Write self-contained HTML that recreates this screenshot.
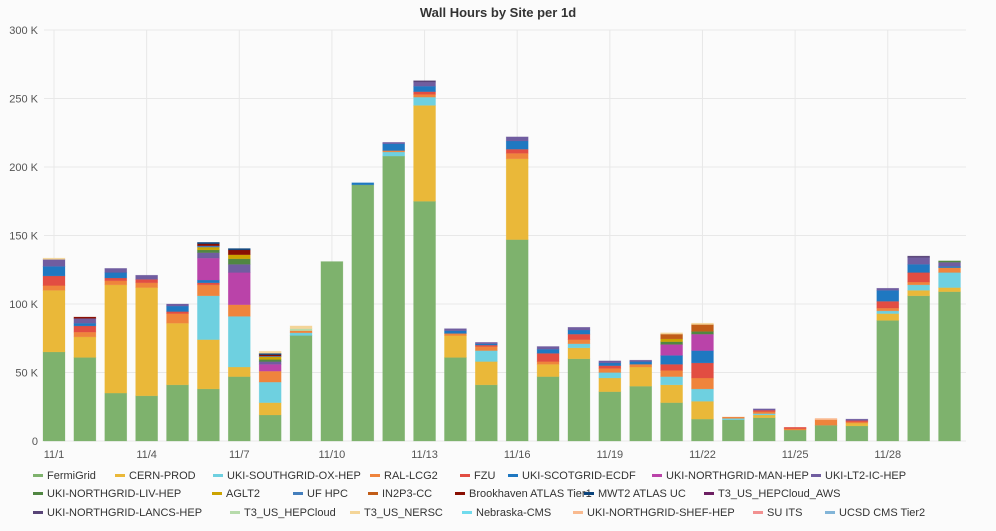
<!DOCTYPE html>
<html><head><meta charset="utf-8"><style>
body{margin:0;background:#fbfbfb;font-family:"Liberation Sans",sans-serif;}
svg text{font-family:"Liberation Sans",sans-serif;}
</style></head><body>
<svg id="c" width="996" height="526"></svg>
<script>
const days=[];for(let i=1;i<=30;i++)days.push("11/"+i);
const yTicks=[0,50,100,150,200,250,300];
const yTickLabels=["0","50 K","100 K","150 K","200 K","250 K","300 K"];
const seriesNames=["FermiGrid","CERN-PROD","UKI-SOUTHGRID-OX-HEP","RAL-LCG2","FZU","UKI-SCOTGRID-ECDF","UKI-NORTHGRID-MAN-HEP","UKI-LT2-IC-HEP","UKI-NORTHGRID-LIV-HEP","AGLT2","UF HPC","IN2P3-CC","Brookhaven ATLAS Tier1","MWT2 ATLAS UC","T3_US_HEPCloud_AWS","UKI-NORTHGRID-LANCS-HEP","T3_US_HEPCloud","T3_US_NERSC","Nebraska-CMS","UKI-NORTHGRID-SHEF-HEP","SU ITS","UCSD CMS Tier2"];
const colors=["#7eb26d","#eab839","#6ed0e0","#ef843c","#e24d42","#1f78c1","#ba43a9","#705da0","#508642","#cca300","#447ebc","#c15c17","#890f02","#0a437c","#6d1f62","#584477","#b7dbab","#f4d598","#70dbed","#f9ba8f","#f29191","#82b5d8"];
const fermi=[65,61,35,33,41,38,47,19,77,131,187,208,175,61,41,147,47,60,36,40,28,16,15.5,17,8,11.5,11,88,106,109];
const cern=[45,15,79,79,45,36,7,9,0,0,0,0,70,16,17,59,9,8,10,14,13,13,0,2,0,0,2,5,4,3];
const ox=[0,0,0,0,0,32,37,15,2,0,0,3,6,0,8,0,0,3,4,0,6,9,1,1,0,0,0,2,4,11];
const ral=[3.5,3.5,3,3.5,7,8,8.5,8,1.5,0,0,1,2,1.5,3,4,2,3,3,2,4.5,8,1,1.5,1,4,1,2,2,3.5];
const fzu=[7,4.5,2,2.5,1.5,1.5,0,0,0,0,0,0,2,0,1,3,6,4,2,0,4.5,11,0,1,1,0,1,5,7,0];
const ecdf=[7,2,4,0,4,2,0,0,0,0,1.5,5,4,2,1,6,3,3,2,2,6.5,9,0,0,0,0,0,8,6,1];
const man=[0,0,0,0,0,16,23.5,5,0,0,0,0,0,0,0,0,0,0,0,0,8,12,0,0,0,0,0,0,0,0];
const ic=[5,3.5,3,3,1.5,4,6,2,0,0,0,1,3,1.5,1,3,2,2,1.5,1,0,0,0,1,0,0,1,1.5,5,3];
const liv=[0,0,0,0,0,2,4,1.5,0,0,0,0,0,0,0,0,0,0,0,0,2,2,0,0,0,0,0,0,0,1];
const aglt2=[0,0,0,0,0,2,3,2,0,0,0,0,0,0,0,0,0,0,0,0,2,0,0,0,0,0,0,0,0,0];
const ufhpc=[0,0,0,0,0,1,0,0.5,0,0,0,0,0,0,0,0,0,0,0,0,0,0,0,0,0,0,0,0,0,0];
const in2p3=[0,0,0,0,0,0,0,0,0,0,0,0,0,0,0,0,0,0,0,0,3.5,5,0,0,0,0,0,0,0,0];
const brook=[0,1,0,0,0,1.5,3.5,1,0,0,0,0,0,0,0,0,0,0,0,0,0,0,0,0,0,0,0,0,0,0];
const mwt2=[0,0,0,0,0,1,1,1,0,0,0,0,0,0,0,0,0,0,0,0,0,0,0,0,0,0,0,0,0,0];
const aws=[0,0,0,0,0,0,0,0,0,0,0,0,0,0,0,0,0,0,0,0,0,0,0,0,0,0,0,0,0,0];
const lancs=[0,0,0,0,0,0,0,0,0,0,0,0,1,0,0,0,0,0,0,0,0,0,0,0,0,0,0,0,1,0];
const hepcloud=[0,0,0,0,0,0,0,0,1.5,0,0,0,0,0,0,0,0,0,0,0,0,0,0,0,0,0,0,0,0,0];
const nersc=[1,0,0,0,0,0,0,1.5,2,0,0,0,0,0,0,0,0,0,0,0,1,1,0,0,0,0,0,0,0,0];
const nebraska=[0,0,0,0,0,0,0,0,0,0,0,0,0,0,0,0,0,0,0,0,0,0,0,0,0,0,0,0,0,0];
const shef=[0,0,0,0,0,0,0,0,0,0,0,0,0,0,0,0,0,0,0,0,0,0,0,0,0,1,0,0,0,0];
const suits=[0,0,0,0,0,0,0,0,0,0,0,0,0,0,0,0,0,0,0,0,0,0,0,0,0,0,0,0,0,0];
const ucsd=[0,0,0,0,0,0,0,0,0,0,0,0,0,0,0,0,0,0,0,0,0,0,0,0,0,0,0,0,0,0];
const series=[fermi,cern,ox,ral,fzu,ecdf,man,ic,liv,aglt2,ufhpc,in2p3,brook,mwt2,aws,lancs,hepcloud,nersc,nebraska,shef,suits,ucsd];

const NS="http://www.w3.org/2000/svg";
const svg=document.getElementById('c');
function mk(t,a,p){const e=document.createElementNS(NS,t);for(const k in a)e.setAttribute(k,a[k]);(p||svg).appendChild(e);return e;}
const L=44,R=966,T=30,B=441,yMax=300;
const y=v=>B-(v/yMax)*(B-T);
const x=i=>54+i*30.88;
const bw=22;

let t=mk('text',{x:498,y:17,'text-anchor':'middle','font-size':13,'font-weight':'bold',fill:'#333'});


t.textContent="Wall Hours by Site per 1d";

const grid=mk('g',{});


yTicks.forEach((v,i)=>{
  mk('line',{x1:L,x2:R,y1:y(v),y2:y(v),stroke:'#e8e8e8','stroke-width':1},grid);
  const tx=mk('text',{x:38,y:y(v)+4,'text-anchor':'end','font-size':11,fill:'#555'});
  
  
  tx.textContent=yTickLabels[i];
});
days.forEach((d,i)=>{
  if(i%3!==0)return;
  mk('line',{x1:x(i),x2:x(i),y1:T,y2:B,stroke:'#e8e8e8','stroke-width':1},grid);
  const tx=mk('text',{x:x(i),y:458,'text-anchor':'middle','font-size':11,fill:'#555'});
  
  
  tx.textContent=d;
});

const bars=mk('g',{});


days.forEach((d,i)=>{
  let acc=0;
  series.forEach((s,k)=>{
    const v=s[i];if(!v)return;
    const y0=y(acc),y1=y(acc+v);acc+=v;
    const r=mk('rect',{x:x(i)-bw/2,y:y1,width:bw,height:y0-y1,fill:colors[k],stroke:colors[k],'stroke-opacity':0.4,'stroke-width':0.6},bars);
    
    
  });
});

const legPos=[[33,479],[115,479],[213,479],[370,479],[460,479],[508,479],[652,479],[811,479],
[33,497],[212,497],[293,497],[368,497],[455,497],[584,497],[704,497],
[33,516],[230,516],[350,516],[462,516],[573,516],[753,516],[825,516]];
const leg=mk('g',{});


seriesNames.forEach((n,k)=>{
  const [lx,ly]=legPos[k];
  const g=mk('g',{},leg);
  
  
  mk('rect',{x:lx,y:ly-5,width:10,height:3,fill:colors[k]},g);
  const tx=mk('text',{x:lx+14,y:ly,'font-size':11,fill:'#333'},g);
  tx.textContent=n;
});
</script>
</body></html>
